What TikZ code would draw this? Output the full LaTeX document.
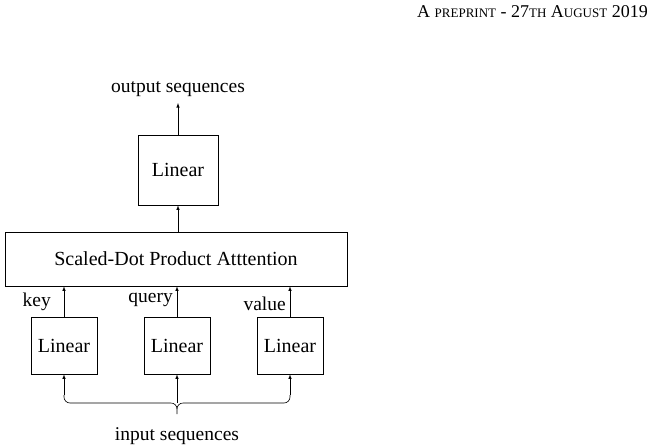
\documentclass[tikz,border=0pt]{standalone}
\usepackage{fontspec}
\setmainfont{Liberation Serif}
\newcommand{\fsc}[1]{{\fontsize{13}{15}\selectfont #1}}
\begin{document}
\begin{tikzpicture}[x=1pt,y=-1pt,
  box/.style={draw,line width=0.6pt,minimum width=66pt,minimum height=57pt,inner sep=0pt,font=\fontsize{20}{22}\selectfont},
  arr/.style={-latex,line width=0.6pt},
  lbl/.style={font=\fontsize{19.5}{22}\selectfont,inner sep=0pt}]
\useasboundingbox (0,0) rectangle (650,447);
\node[anchor=east,font=\fontsize{18}{20}\selectfont,inner sep=0pt] (hdr) at (648,12) {A \fsc{PREPRINT} - 27\fsc{TH} A\fsc{UGUST} 2019};
\node[box,minimum width=342pt,minimum height=54pt] (att) at (176,259) {Scaled-Dot Product Atttention};
\node[box,minimum width=80pt,minimum height=70pt] (top) at (178,170) {Linear};
\node[lbl] (out) at (178,89) {output sequences};
\node[box] (l1) at (64,345.5) {Linear};
\node[box] (l2) at (177,345.5) {Linear};
\node[box] (l3) at (290,345.5) {Linear};
\node[lbl] (in) at (177,436) {input sequences};
\node[lbl,anchor=east] (kk) at (51,302) {key};
\node[lbl,anchor=east] (qq) at (173,300) {query};
\node[lbl,anchor=east] (vv) at (286,304) {value};
\draw[arr] (top.north) -- (out.south |- 0,103);
\draw[arr] (att.north -| top) -- (top.south);
\draw[arr] (l1.north) -- (l1.north |- att.south);
\draw[arr] (l2.north) -- (l2.north |- att.south);
\draw[arr] (l3.north) -- (l3.north |- att.south);
\coordinate (bl) at (64,395);
\coordinate (br) at (290,395);
\coordinate (bc) at (177,403);
\coordinate (tip) at (177,414);
\draw[line width=0.6pt] (bl) -- (64,397) arc[start angle=180,end angle=90,radius=6] -- (171,403) arc[start angle=270,end angle=360,radius=6] -- (tip);
\draw[line width=0.6pt] (br) -- (290,397) arc[start angle=0,end angle=90,radius=6] -- (183,403) arc[start angle=270,end angle=180,radius=6];
\draw[arr] (bl) -- (l1.south);
\draw[arr] (br) -- (l3.south);
\draw[arr] (bc) -- (l2.south);
\end{tikzpicture}
\end{document}
